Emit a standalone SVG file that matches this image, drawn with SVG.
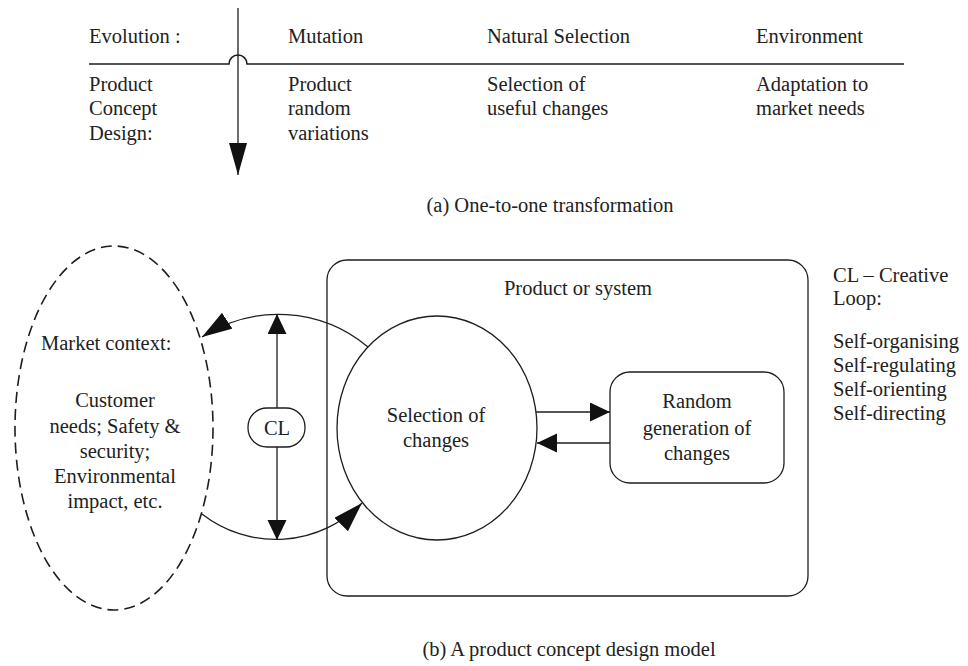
<svg xmlns="http://www.w3.org/2000/svg" width="968" height="666" viewBox="0 0 968 666">
  <style>
    text { font-family: "Liberation Serif", "Times New Roman", serif; font-size: 20.5px; fill: #222; }
    .mid { text-anchor: middle; }
    .ln { fill: none; stroke: #1e1e1e; stroke-width: 1.3; }
    .box { fill: #fff; stroke: #1e1e1e; stroke-width: 1.3; }
  </style>
  <defs>
    <marker id="arrLong" markerUnits="userSpaceOnUse" markerWidth="32" markerHeight="20" refX="30" refY="9.5" orient="auto">
      <path d="M0,0 L30,9.5 L0,19 z" fill="#111"/>
    </marker>
    <marker id="arrShort" markerUnits="userSpaceOnUse" markerWidth="22" markerHeight="20" refX="20" refY="9.5" orient="auto">
      <path d="M0,0 L20,9.5 L0,19 z" fill="#111"/>
    </marker>
    <marker id="arrTop" markerUnits="userSpaceOnUse" markerWidth="34" markerHeight="20" refX="32" refY="9" orient="auto">
      <path d="M0,0 L32,9 L0,18 z" fill="#111"/>
    </marker>
  </defs>

  <!-- (a) table: evolution vs product concept design -->
  <g id="table">
    <path class="ln" style="stroke-width:1.6" d="M89,64 H229 A9,9 0 0,1 247,64 H904"/>
    <line class="ln" x1="238" y1="8" x2="238" y2="175" marker-end="url(#arrTop)"/>
    <text x="89" y="43">Evolution :</text>
    <text x="288" y="43">Mutation</text>
    <text x="487" y="43">Natural Selection</text>
    <text x="756" y="43">Environment</text>
    <text x="89" y="91">Product</text>
    <text x="89" y="115">Concept</text>
    <text x="89" y="140">Design:</text>
    <text x="288" y="91">Product</text>
    <text x="288" y="115">random</text>
    <text x="288" y="140">variations</text>
    <text x="487" y="91">Selection of</text>
    <text x="487" y="115">useful changes</text>
    <text x="756" y="91">Adaptation to</text>
    <text x="756" y="115">market needs</text>
    <text class="mid" x="550" y="212">(a) One-to-one transformation</text>
  </g>

  <!-- (b) product concept design model -->
  <g id="system">
    <rect class="ln" x="327" y="260" width="481" height="336" rx="20"/>
    <text class="mid" x="578" y="295">Product or system</text>
  </g>

  <g id="market">
    <ellipse class="ln" cx="114" cy="428" rx="99" ry="182" style="stroke-width:1.6" stroke-dasharray="11 6"/>
    <text x="41" y="350">Market context:</text>
    <text class="mid" x="115" y="407">Customer</text>
    <text class="mid" x="115" y="433">needs; Safety &amp;</text>
    <text class="mid" x="115" y="458">security;</text>
    <text class="mid" x="115" y="483">Environmental</text>
    <text class="mid" x="115" y="508">impact, etc.</text>
  </g>

  <g id="connectors">
    <path class="ln" d="M368,347 A140,140 0 0,0 202,337" marker-end="url(#arrLong)"/>
    <path class="ln" d="M202,514 A120,120 0 0,0 362,503" marker-end="url(#arrLong)"/>
    <line class="ln" x1="277" y1="408" x2="277" y2="314" marker-end="url(#arrShort)"/>
    <line class="ln" x1="277" y1="447" x2="277" y2="540" marker-end="url(#arrShort)"/>
    <line class="ln" x1="536" y1="412" x2="610" y2="412" marker-end="url(#arrShort)"/>
    <line class="ln" x1="610" y1="443" x2="537" y2="443" marker-end="url(#arrShort)"/>
  </g>

  <g id="selection">
    <ellipse class="box" cx="437" cy="428" rx="100" ry="112"/>
    <text class="mid" x="436" y="422">Selection of</text>
    <text class="mid" x="436" y="447">changes</text>
  </g>

  <g id="random">
    <rect class="box" x="610" y="372" width="174" height="111" rx="20"/>
    <text class="mid" x="697" y="408">Random</text>
    <text class="mid" x="697" y="435">generation of</text>
    <text class="mid" x="697" y="460">changes</text>
  </g>

  <g id="loop">
    <rect class="box" x="248" y="408" width="57" height="39" rx="19"/>
    <text class="mid" x="277" y="435">CL</text>
  </g>

  <g id="legend">
    <text x="833" y="282">CL – Creative</text>
    <text x="833" y="305">Loop:</text>
    <text x="833" y="348">Self-organising</text>
    <text x="833" y="372">Self-regulating</text>
    <text x="833" y="396">Self-orienting</text>
    <text x="833" y="420">Self-directing</text>
  </g>

  <text class="mid" x="569" y="656">(b) A product concept design model</text>
</svg>
